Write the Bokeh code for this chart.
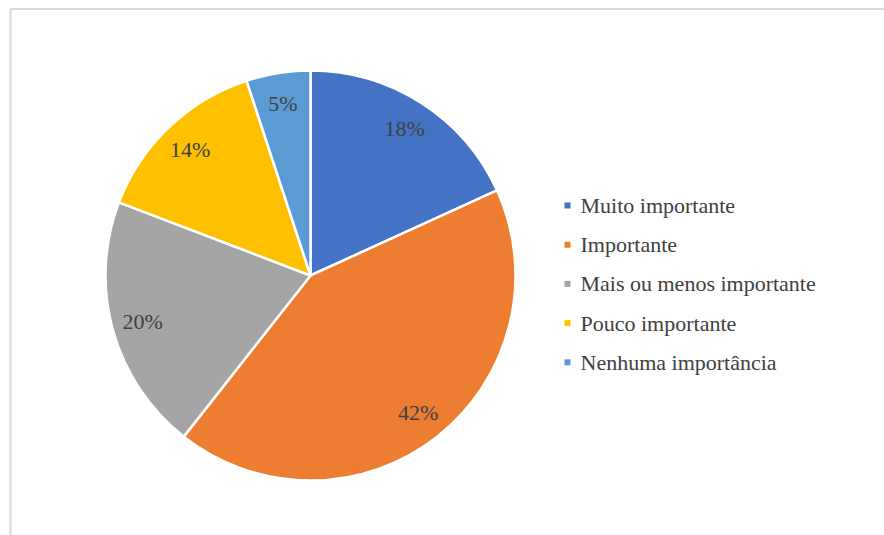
import math
from bokeh.plotting import figure
from bokeh.models import ColumnDataSource, Range1d
from bokeh.core.properties import value
from bokeh.embed import file_html
from bokeh.resources import INLINE

categories = ["Muito importante", "Importante", "Mais ou menos importante",
              "Pouco importante", "Nenhuma importância"]
values = [18, 42, 20, 14, 5]
labels = ["18%", "42%", "20%", "14%", "5%"]
colors = ["#4472C4", "#ED7D31", "#A5A5A5", "#FFC000", "#5B9BD5"]

W, H = 884, 535
CX, CY, R = 310, 275, 205  # pixel layout of pie
FONT = "Liberation Serif"

def px_x(px):
    return (px - CX) / R

def px_y(py):
    return (CY - py) / R

total = sum(values)
starts, ends, lx, ly = [], [], [], []
cum = 0.0
for v in values:
    a0 = math.pi / 2 - cum / total * 2 * math.pi
    cum += v
    a1 = math.pi / 2 - cum / total * 2 * math.pi
    starts.append(a1)
    ends.append(a0)
    mid = (a0 + a1) / 2
    lx.append(0.85 * math.cos(mid))
    ly.append(0.85 * math.sin(mid))

src = ColumnDataSource(dict(start=starts, end=ends, color=colors, lx=lx, ly=ly,
                            label=labels, cat=categories))

p = figure(width=W, height=H, output_backend="svg", toolbar_location=None,
           x_range=Range1d(px_x(0), px_x(W)), y_range=Range1d(px_y(H), px_y(0)),
           min_border=0)
p.axis.visible = False
p.grid.visible = False
p.outline_line_color = None
p.background_fill_color = "white"
p.border_fill_color = "white"

# chart area border (top and left edges visible)
p.segment(x0=[px_x(10), px_x(10)], y0=[px_y(8.5), px_y(8.5)],
          x1=[px_x(W + 5), px_x(10)], y1=[px_y(8.5), px_y(H + 5)],
          line_color="#d9d9d9", line_width=2)

p.wedge(x=0, y=0, radius=1, start_angle="start", end_angle="end",
        fill_color="color", line_color="white", line_width=2.5, source=src)

p.text(x="lx", y="ly", text="label", source=src, text_align="center",
       text_baseline="middle", text_font=value(FONT),
       text_font_size="22px", text_color="#404040")

# legend
leg_x = [px_x(567)] * len(categories)
leg_tx = [px_x(580)] * len(categories)
leg_y = [px_y(205 + i * 39.2) for i in range(len(categories))]
lsrc = ColumnDataSource(dict(x=leg_x, tx=leg_tx, y=leg_y, color=colors, cat=categories))
p.scatter(x="x", y="y", marker="square", size=6, fill_color="color",
          line_color=None, source=lsrc)
p.text(x="tx", y="y", text="cat", source=lsrc, text_align="left",
       text_baseline="middle", text_font=value(FONT),
       text_font_size="22px", text_color="#404040")

open("out.html", "w").write(file_html(p, INLINE))
